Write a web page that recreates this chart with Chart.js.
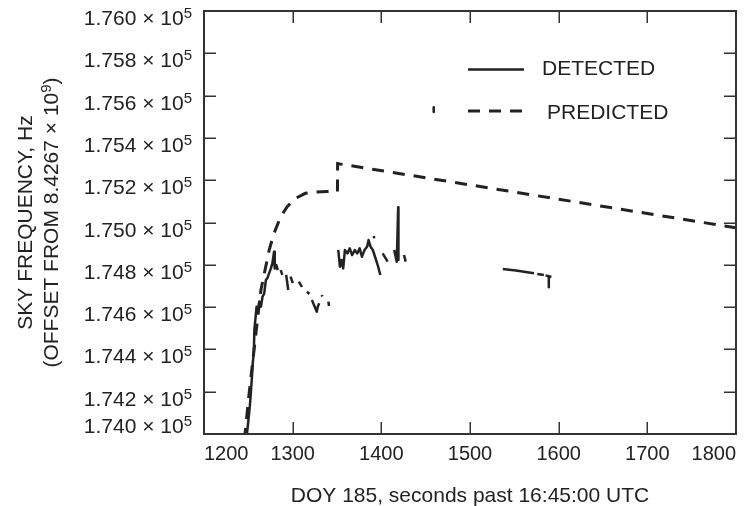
<!DOCTYPE html>
<html>
<head>
<meta charset="utf-8">
<script src="https://cdn.jsdelivr.net/npm/chart.js@4/dist/chart.umd.min.js"></script>
<style>
  html, body { margin: 0; padding: 0; background: #fff; }
  #wrap { width: 744px; height: 506px; }
</style>
</head>
<body>
<div id="wrap"><canvas id="c" width="744" height="506"></canvas></div>
<script>
// Axis ticks
const timeTicks = [1200, 1300, 1400, 1500, 1600, 1700, 1800];
const freqTicks = [174000, 174200, 174400, 174600, 174800, 175000,
                   175200, 175400, 175600, 175800, 176000];

// Detected sky frequency (Hz offset), null marks a dropout
const detectedTime = [
  1248.2, 1250.1, 1251.8, 1252.9, 1254.0, 1255.1, 1256.2, 1256.8, 1259.3, 1260.9,
  1262.3, 1264.2, 1266.0, 1267.9, 1269.8, 1271.6, 1275.4, 1277.1, 1279.0, 1279.8,
  1281.6, 1283.2, 1284.0,
  1286.5, 1288.3, 1289.0,
  1292.7, 1295.0, 1296.0,
  1297.6, 1300.2, 1301.0,
  1306.9, 1310.5, 1311.0,
  1316.1, 1318.8, 1319.5,
  1321.7, 1327.2, 1328.3, 1329.9, 1330.5,
  1332.8, 1333.4, 1334.0,
  1340.3, 1341.0, 1342.0,
  1351.4, 1353.3, 1355.1, 1357.0, 1358.9, 1361.7, 1364.4, 1367.0, 1370.0, 1372.9,
  1375.6, 1378.1, 1381.1, 1384.0, 1385.6, 1387.8, 1390.4, 1392.9, 1395.9, 1398.9, 1399.5,
  1391.5, 1392.0, 1392.5,
  1401.5, 1407.1, 1408.0,
  1414.5, 1417.4, 1419.0, 1419.3, 1420.0,
  1425.6, 1427.4, 1428.0,
  1459.0, 1459.1, 1459.5,
  1537.0, 1551.8, 1572.2, 1573.0,
  1575.9, 1583.3, 1584.0,
  1585.2, 1591.8, 1592.0,
  1588.8, 1588.9
];
const detectedFreq = [
  173991, 174066, 174137, 174199, 174265, 174340, 174388, 174492, 174602, 174571,
  174626, 174602, 174649, 174665, 174728, 174738, 174783, 174807, 174862, 174783,
  174799, 174775, null,
  174775, 174752, null,
  174752, 174681, null,
  174744, 174713, null,
  174720, 174696, null,
  174673, 174662, null,
  174634, 174578, 174602, 174618, null,
  174657, 174650, null,
  174626, 174605, null,
  174870, 174791, 174823, 174783, 174870, 174854, 174878, 174846, 174870, 174854,
  174878, 174838, 174870, 174886, 174917, 174886, 174870, 174838, 174799, 174752, null,
  174936, 174925, null,
  174854, 174815, null,
  174870, 174815, 175072, 174823, null,
  174846, 174815, null,
  175545, 175522, null,
  174780, 174773, 174760, null,
  174756, 174752, null,
  174750, 174742, null,
  174747, 174694
];

// Predicted sky frequency (Hz offset)
const predictedTime = [
  1245.6, 1250.1, 1254.5, 1259.0, 1264.2, 1273.5, 1279.0, 1286.5, 1293.8, 1303.2,
  1314.3, 1325.5, 1338.4, 1350.5, 1350.7, 1353.0, 1800
];
const predictedFreq = [
  173972, 174161, 174326, 174492, 174681, 174870, 174949, 175027, 175075, 175114,
  175138, 175144, 175146, 175146, 175279, 175277, 174975
];

const seriesNames = ['DETECTED', 'PREDICTED'];
const xTitle = 'DOY 185, seconds past 16:45:00 UTC';
const yTitle1 = 'SKY FREQUENCY, Hz';
const yTitle2Main = '(OFFSET FROM 8.4267 \u00d7 10';
const yTitle2Sup = '9';
const yTitle2End = ')';

const INK = '#222222';
const FRAME = '#333333';
const FONT = '"Liberation Sans", Arial, Helvetica, sans-serif';

const toPoints = (xs, ys) => xs.map((t, i) => ({ x: t, y: ys[i] }));

// Frame with inward ticks, y labels with superscript exponents, y title and legend
const decorations = {
  id: 'decorations',
  afterDatasetsDraw(chart) {
    const { ctx, chartArea: a, scales } = chart;
    const xs = scales.x, ys = scales.y;
    ctx.save();

    // inward tick marks on all four sides
    ctx.strokeStyle = FRAME;
    ctx.lineWidth = 1.5;
    ctx.beginPath();
    const tl = 12;
    timeTicks.forEach(v => {
      if (v === xs.min || v === xs.max) return;
      const px = Math.round(xs.getPixelForValue(v)) + 0.25;
      ctx.moveTo(px, a.bottom); ctx.lineTo(px, a.bottom - tl);
      ctx.moveTo(px, a.top); ctx.lineTo(px, a.top + tl);
    });
    freqTicks.forEach(v => {
      if (v === ys.min || v === ys.max) return;
      const py = Math.round(ys.getPixelForValue(v)) + 0.25;
      ctx.moveTo(a.left, py); ctx.lineTo(a.left + tl, py);
      ctx.moveTo(a.right, py); ctx.lineTo(a.right - tl, py);
    });
    ctx.stroke();

    // plot frame
    ctx.lineWidth = 2;
    ctx.strokeRect(a.left, a.top, a.right - a.left, a.bottom - a.top);

    // y tick labels: "1.760 × 10^5"
    ctx.fillStyle = INK;
    ctx.textBaseline = 'alphabetic';
    const mainFont = '21px ' + FONT;
    const supFont = '15px ' + FONT;
    freqTicks.forEach(v => {
      const py = ys.getPixelForValue(v);
      const main = (v / 1e5).toFixed(3) + ' \u00d7 10';
      ctx.font = supFont;
      const supW = ctx.measureText('5').width;
      ctx.font = mainFont;
      const mainW = ctx.measureText(main).width;
      const right = a.left - 12;
      let base = py + 14;
      if (base > a.bottom) base = a.bottom - 1;
      ctx.textAlign = 'left';
      ctx.fillText(main, right - supW - mainW, base);
      ctx.font = supFont;
      ctx.fillText('5', right - supW, base - 7);
    });

    // rotated y axis title, two lines
    const cy = (a.top + a.bottom) / 2;
    ctx.save();
    ctx.translate(0, cy);
    ctx.rotate(-Math.PI / 2);
    ctx.font = mainFont;
    ctx.textAlign = 'center';
    ctx.fillText(yTitle1, 0, 32);
    const w1 = ctx.measureText(yTitle2Main).width;
    ctx.font = supFont;
    const w2 = ctx.measureText(yTitle2Sup).width;
    ctx.font = mainFont;
    const w3 = ctx.measureText(yTitle2End).width;
    const total = w1 + w2 + w3;
    ctx.textAlign = 'left';
    let sx = -total / 2;
    ctx.fillText(yTitle2Main, sx, 58);
    ctx.font = supFont;
    ctx.fillText(yTitle2Sup, sx + w1, 51);
    ctx.font = mainFont;
    ctx.fillText(yTitle2End, sx + w1 + w2, 58);
    ctx.restore();

    // legend
    const ds = chart.data.datasets;
    const rows = [
      { y: 69.5, text: 75, tx: 542 },
      { y: 111, text: 119, tx: 547 }
    ];
    ds.forEach((d, i) => {
      const r = rows[i];
      ctx.strokeStyle = d.borderColor;
      ctx.lineWidth = Math.min(d.borderWidth, 3);
      ctx.setLineDash(d.borderDash || []);
      ctx.beginPath();
      ctx.moveTo(468, r.y); ctx.lineTo(524, r.y);
      ctx.stroke();
      ctx.setLineDash([]);
      ctx.font = mainFont;
      ctx.fillStyle = INK;
      ctx.textAlign = 'left';
      ctx.fillText(d.label, r.tx, r.text);
    });
    ctx.restore();
  }
};

new Chart(document.getElementById('c'), {
  type: 'line',
  data: {
    datasets: [
      {
        label: seriesNames[0],
        data: toPoints(detectedTime, detectedFreq),
        borderColor: INK,
        borderWidth: 2.5,
        pointRadius: 0,
        tension: 0,
        spanGaps: false,
        borderJoinStyle: 'round',
        clip: 0
      },
      {
        label: seriesNames[1],
        data: toPoints(predictedTime, predictedFreq),
        borderColor: INK,
        borderWidth: 3,
        borderDash: [12, 9],
        pointRadius: 0,
        tension: 0,
        clip: 0
      }
    ]
  },
  options: {
    responsive: false,
    animation: false,
    devicePixelRatio: 1,
    layout: { padding: { top: 11, right: 1.5, left: 0, bottom: 0 } },
    plugins: { legend: { display: false }, tooltip: { enabled: false } },
    scales: {
      x: {
        type: 'linear',
        min: 1200, max: 1800,
        afterBuildTicks: s => { s.ticks = timeTicks.map(v => ({ value: v })); },
        afterFit: s => { s.height = 72; },
        grid: { display: false, drawTicks: false },
        border: { display: false },
        ticks: {
          align: 'inner',
          padding: 8,
          color: INK,
          font: { family: FONT, size: 20 },
          callback: v => String(v)
        },
        title: {
          display: true,
          text: xTitle,
          color: INK,
          font: { family: FONT, size: 21 },
          padding: { top: 8, bottom: -3 }
        }
      },
      y: {
        type: 'linear',
        min: 174000, max: 176000,
        afterBuildTicks: s => { s.ticks = freqTicks.map(v => ({ value: v })); },
        afterFit: s => { s.width = 204; },
        grid: { display: false, drawTicks: false },
        border: { display: false },
        ticks: { display: false }
      }
    }
  },
  plugins: [decorations]
});
</script>
</body>
</html>
